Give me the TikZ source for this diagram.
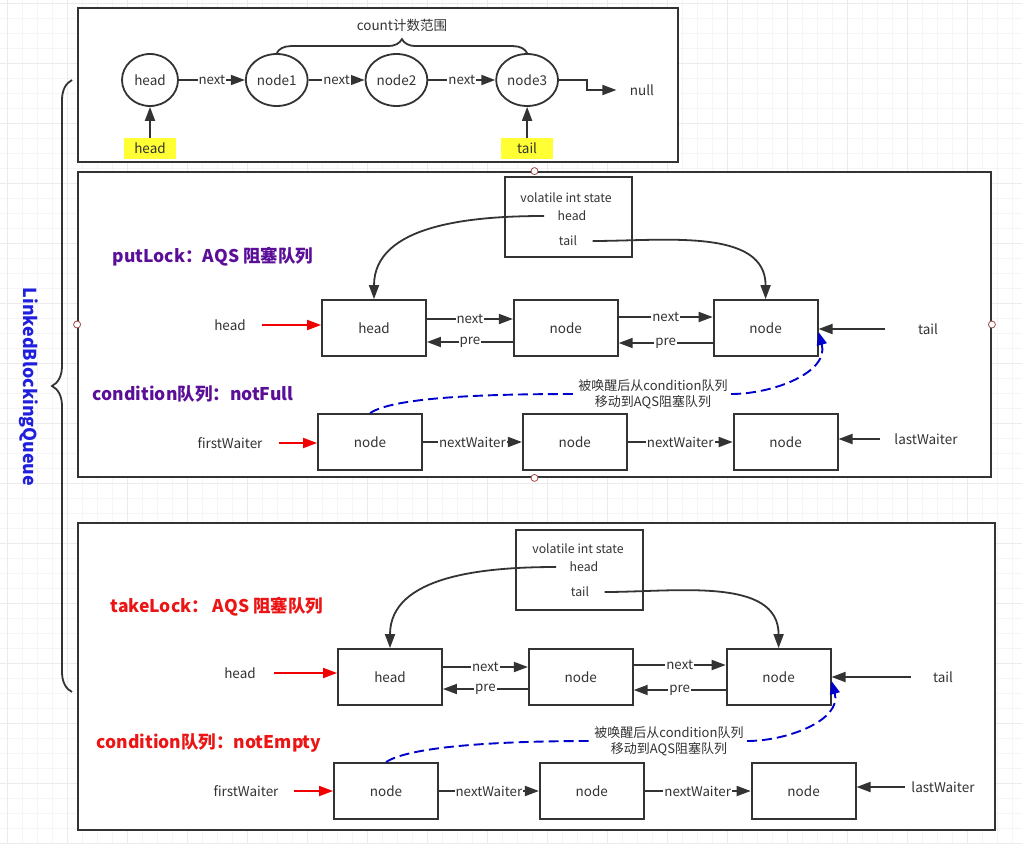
\documentclass[tikz,border=0pt]{standalone}
\usepackage{fontspec}
\setmainfont{Noto Sans CJK SC}
\usetikzlibrary{arrows.meta,positioning,shapes.geometric,decorations.pathreplacing}

\definecolor{ink}{HTML}{333333}
\definecolor{putcol}{HTML}{5B0F99}
\definecolor{takecol}{HTML}{EC1515}
\definecolor{ptrred}{HTML}{F00000}
\definecolor{wakeblue}{HTML}{0000CC}
\definecolor{qblue}{HTML}{1F1FDD}
\definecolor{hilite}{HTML}{FFFF33}
\definecolor{dotred}{HTML}{A34848}

\begin{document}
\begin{tikzpicture}[x=1pt,y=-1pt,font=\fontsize{13.5}{16}\selectfont,text=ink]
    % LinkedBlockingQueue: one list, two locks
    \tikzset{frame/.style = {shape=rectangle,draw=ink,line width=1.8pt,fill=white,inner sep=0pt}}
    \tikzset{qnode/.style = {shape=ellipse,draw=ink,line width=1.8pt,minimum width=56pt,minimum height=52pt,inner sep=2pt}}
    \tikzset{box/.style = {shape=rectangle,draw=ink,line width=1.8pt,fill=white,minimum width=104pt,minimum height=56pt}}
    \tikzset{state/.style = {shape=rectangle,draw=ink,line width=1.8pt,fill=white,minimum width=127pt,minimum height=80pt}}
    \tikzset{tag/.style = {shape=rectangle,fill=hilite,minimum width=52pt,minimum height=21pt,inner sep=0pt}}
    \tikzset{lbl/.style = {fill=white,inner sep=1pt,font=\fontsize{13.3}{15}\selectfont}}
    \tikzset{small/.style = {font=\fontsize{12.3}{16}\selectfont}}
    \tikzset{ttl/.style = {font=\fontsize{17.5}{20}\selectfont\bfseries}}
    \tikzset{ptr/.style = {draw=ink,line width=1.8pt,-{Triangle[length=14pt,width=10pt]}}}
    \tikzset{bptr/.style = {draw=ink,line width=1.8pt,{Triangle[length=14pt,width=10pt]}-}}
    \tikzset{rptr/.style = {draw=ptrred,line width=1.8pt,-{Triangle[length=14pt,width=10pt]}}}
    \tikzset{wake/.style = {draw=wakeblue,line width=1.9pt,dash pattern=on 10pt off 5pt}}
    \tikzset{wtip/.style = {-{Triangle[length=13pt,width=10pt]}}}
    \tikzset{pin/.style = {shape=circle,draw=dotred,fill=white,line width=0.8pt,inner sep=0pt,minimum size=7pt}}
    \tikzset{brc/.style = {draw=ink,line width=1.8pt,decorate,decoration={brace,amplitude=14pt}}}

    \useasboundingbox (0,0) rectangle (1022,843);

    % background grid
    \draw[gray!8,line width=0.6pt,step=15pt,shift={(7,3)}] (-7,-3) grid (1015,840);
    \draw[gray!16,line width=0.6pt,step=60pt,shift={(7,3)}] (-7,-3) grid (1015,840);

    % frames
    \node[frame,minimum width=600pt,minimum height=154pt] (tbox) at (378,85) {};
    \node[frame,minimum width=913pt,minimum height=305pt] (pbox) at (534.5,324.5) {};
    \node[frame,minimum width=917pt,minimum height=307pt] (kbox) at (536.5,676.5) {};
    \node[pin] (pdw) at (pbox.west) {};
    \node[pin] (pde) at (pbox.east) {};
    \node[pin] (pdn) at (pbox.north) {};
    \node[pin] (pds) at (pbox.south) {};

    % queue brace
    \coordinate (qtop) at (72,80);
    \coordinate (qbot) at (72,692);
    \draw[brc,decoration={brace,amplitude=20pt}] (qbot) -- (qtop);
    \node[rotate=-90,text=qblue,font=\fontsize{17.8}{20}\selectfont\bfseries] (lbq) at (29,387) {LinkedBlockingQueue};

    % linked list
    \node[qnode] (h0) at (150,80) {head};
    \node[qnode] (n1) [right=66pt of h0] {node1}
       edge [bptr] node[lbl] {next} (h0);
    \node[qnode] (n2) [right=56pt of n1] {node2}
       edge [bptr] node[lbl] {next} (n1);
    \node[qnode] (n3) [right=67pt of n2] {node3}
       edge [bptr] node[lbl] {next} (n2);
    \node (nul) at (642,90) {null};
    \draw[ptr,shorten >=10pt] (n3.east) -- ++(28,0) |- (nul.west);
    \node[tag] (hp) [below=31pt of h0] {head}
       edge [ptr] (h0);
    \node[tag] (tp) [below=31pt of n3] {tail}
       edge [ptr] (n3);
    \draw[brc] (n1.north) -- (n3.north);
    \path (n1.north) -- (n3.north) node[midway,above=18pt] (cnt) {count计数范围};

    % putLock: AQS queue
    \node[state] (ps) at (568.5,217) {};
    \node[small] (psv) at (566,198) {volatile int state};
    \node[small] (psh) at (572,216) {head};
    \node[small] (pst) at (568,241) {tail};
    \node[ttl,text=putcol] (pttl) at (213,257) {putLock：AQS 阻塞队列};
    \node[box] (ph) at (374,328) {head};
    \node[box] (pn1) [right=86pt of ph] {node};
    \node[box] (pn2) [right=94pt of pn1] {node};
    \draw[ptr] ([yshift=9pt]ph.east) -- node[lbl] {next} ([yshift=9pt]pn1.west);
    \draw[ptr] ([yshift=-14pt]pn1.west) -- node[lbl] {pre} ([yshift=-14pt]ph.east);
    \draw[ptr] ([yshift=11pt]pn1.east) -- node[lbl] {next} ([yshift=11pt]pn2.west);
    \draw[ptr] ([yshift=-15pt]pn2.west) -- node[lbl] {pre} ([yshift=-15pt]pn1.east);
    \draw[ptr] ([xshift=-10pt]psh.west) to[out=180,in=90] (ph.north);
    \draw[ptr] ([xshift=12pt]pst.east) to[out=0,in=90] (pn2.north);
    \node (phl) at (230,325) {head};
    \draw[rptr,shorten <=13pt] (phl.east) -- (phl.east -| ph.west);
    \node (ptl) at (928,329) {tail};
    \draw[ptr,shorten <=30pt] (ptl.west) -- (ptl.west -| pn2.east);

    % putLock: condition notFull
    \node[ttl,text=putcol] (pctl) at (193,394) {condition队列：notFull};
    \node[box] (pc0) at (370,442) {node};
    \node[box] (pc1) [right=99pt of pc0] {node};
    \node[box] (pc2) [right=105pt of pc1] {node};
    \draw[ptr] (pc0) -- node[lbl] {nextWaiter} (pc1);
    \draw[ptr] (pc1) -- node[lbl] {nextWaiter} (pc2);
    \node (pfw) at (230,443) {firstWaiter};
    \draw[rptr,shorten <=13pt] (pfw.east) -- (pfw.east -| pc0.west);
    \node (plw) at (926,439) {lastWaiter};
    \draw[ptr,shorten <=11pt] (plw.west) -- (plw.west -| pc2.east);
    \node[font=\fontsize{13}{16}\selectfont,align=center] (pwk) at (653,394) {被唤醒后从condition队列\\移动到AQS阻塞队列};
    \draw[wake] (pc0.north) .. controls +(24,-16) and +(-90,0) .. (pwk.west);
    \draw[wake,wtip] (pwk.east) to[out=0,in=-75] ([yshift=-4pt]pn2.east);

    % takeLock: AQS queue
    \node[state] (ks) at (579.5,570) {};
    \node[small] (ksv) at (578,549) {volatile int state};
    \node[small] (ksh) at (584,567) {head};
    \node[small] (kst) at (580,592) {tail};
    \node[ttl,text=takecol] (kttl) at (217,607) {takeLock： AQS 阻塞队列};
    \node[box] (kh) at (390,677) {head};
    \node[box] (kn1) [right=85pt of kh] {node};
    \node[box] (kn2) [right=92pt of kn1] {node};
    \draw[ptr] ([yshift=10pt]kh.east) -- node[lbl] {next} ([yshift=10pt]kn1.west);
    \draw[ptr] ([yshift=-12pt]kn1.west) -- node[lbl] {pre} ([yshift=-12pt]kh.east);
    \draw[ptr] ([yshift=12pt]kn1.east) -- node[lbl] {next} ([yshift=12pt]kn2.west);
    \draw[ptr] ([yshift=-13pt]kn2.west) -- node[lbl] {pre} ([yshift=-13pt]kn1.east);
    \draw[ptr] ([xshift=-10pt]ksh.west) to[out=180,in=90] (kh.north);
    \draw[ptr] ([xshift=12pt]kst.east) to[out=0,in=90] (kn2.north);
    \node (khl) at (240,673) {head};
    \draw[rptr,shorten <=15pt] (khl.east) -- (khl.east -| kh.west);
    \node (ktl) at (943,677) {tail};
    \draw[ptr,shorten <=19pt] (ktl.west) -- (ktl.west -| kn2.east);

    % takeLock: condition notEmpty
    \node[ttl,text=takecol] (kctl) at (209,743) {condition队列：notEmpty};
    \node[box] (kc0) at (386,791) {node};
    \node[box] (kc1) [right=100pt of kc0] {node};
    \node[box] (kc2) [right=106pt of kc1] {node};
    \draw[ptr] (kc0) -- node[lbl] {nextWaiter} (kc1);
    \draw[ptr] (kc1) -- node[lbl] {nextWaiter} (kc2);
    \node (kfw) at (246,791) {firstWaiter};
    \draw[rptr,shorten <=12pt] (kfw.east) -- (kfw.east -| kc0.west);
    \node (klw) at (943,787) {lastWaiter};
    \draw[ptr,shorten <=3pt] (klw.west) -- (klw.west -| kc2.east);
    \node[font=\fontsize{13}{16}\selectfont,align=center] (kwk) at (669,741) {被唤醒后从condition队列\\移动到AQS阻塞队列};
    \draw[wake] (kc0.north) .. controls +(24,-16) and +(-90,0) .. (kwk.west);
    \draw[wake,wtip] (kwk.east) to[out=0,in=-75] ([yshift=-4pt]kn2.east);
\end{tikzpicture}
\end{document}
